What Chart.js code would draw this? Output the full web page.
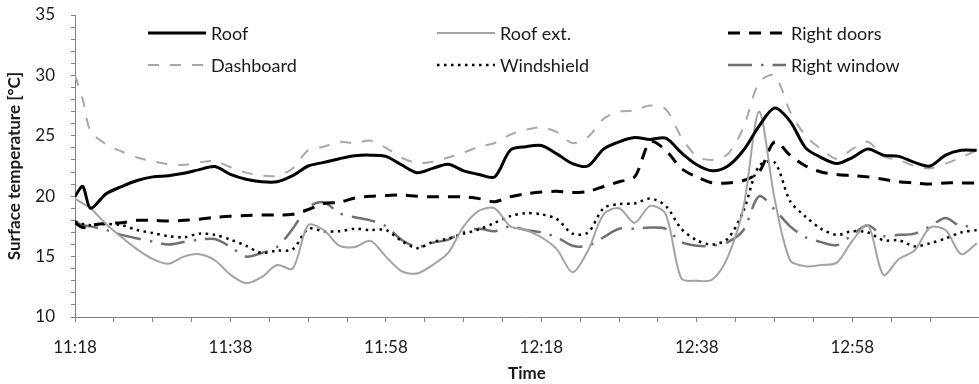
<!DOCTYPE html>
<html>
<head>
<meta charset="utf-8">
<script src="https://cdn.jsdelivr.net/npm/chart.js@4.4.1/dist/chart.umd.min.js"></script>
<style>
  html, body { margin: 0; padding: 0; background: #fff; overflow: hidden; }
  canvas { display: block; }
</style>
</head>
<body>
<canvas id="chartSuhu" width="979" height="384"></canvas>
<script>
// minutes after 11:18
const times = [
  0, 1, 2, 4, 6, 8, 10, 12, 14, 16,
  18, 20, 22, 24, 26, 28, 30, 32, 34, 36,
  38, 40, 42, 44, 46, 48, 50, 52, 54, 56,
  58, 60, 62, 64, 66, 68, 70, 72, 74, 76,
  78, 80, 82, 84, 86, 88, 90, 92, 94, 96,
  98, 100, 102, 104, 106, 108, 110, 112, 114, 116
];

const timeLabels = ["11:18", "11:38", "11:58", "12:18", "12:38", "12:58"];

const roof = [
  20.0, 20.8, 19.0, 20.2, 20.8, 21.3, 21.6, 21.7, 21.9, 22.2,
  22.45, 21.8, 21.4, 21.2, 21.2, 21.7, 22.5, 22.8, 23.1, 23.35,
  23.4, 23.3, 22.6, 21.95, 22.3, 22.65, 22.1, 21.8, 21.6, 23.8,
  24.1, 24.2, 23.5, 22.7, 22.5, 23.9, 24.5, 24.85, 24.7, 24.8,
  23.6, 22.6, 22.1, 22.5, 23.8, 25.8, 27.3, 26.2, 24.0, 23.2,
  22.7, 23.2, 23.9, 23.4, 23.3, 22.8, 22.5, 23.4, 23.8, 23.8
];

const roofExt = [
  19.8, 19.4, 19.0, 17.7, 16.6, 15.6, 14.8, 14.4, 15.0, 15.2,
  14.7, 13.5, 12.8, 13.3, 14.3, 14.0, 17.6, 17.2, 15.9, 15.8,
  16.3, 15.0, 13.8, 13.6, 14.3, 15.3, 17.5, 18.8, 19.0, 17.5,
  17.2, 16.6, 15.6, 13.7, 15.5, 18.5, 19.0, 17.8, 19.2, 18.5,
  13.2, 13.0, 13.1, 15.0, 19.1, 27.0, 19.8, 14.7, 14.2, 14.3,
  14.5, 16.3, 17.6, 13.5, 14.8, 15.5, 17.4, 17.2, 15.2, 16.1
];

const rightDoors = [
  17.8, 17.4, 17.6, 17.75, 17.8, 18.0, 18.0, 17.95, 18.0, 18.1,
  18.25, 18.35, 18.4, 18.45, 18.45, 18.5, 18.9, 19.4, 19.5, 19.85,
  20.0, 20.05, 20.1, 20.0, 19.95, 19.95, 19.95, 19.8, 19.55, 19.95,
  20.2, 20.35, 20.4, 20.3, 20.4, 20.8, 21.2, 21.6, 24.5, 23.8,
  22.3, 21.6, 21.1, 21.1, 21.3, 22.0, 24.5, 23.4, 22.5, 22.0,
  21.8, 21.7, 21.6, 21.4, 21.2, 21.1, 21.0, 21.1, 21.1, 21.1
];

const dashboard = [
  30.0, 28.0, 25.4, 24.3, 23.7, 23.2, 22.9, 22.65, 22.6, 22.8,
  22.9, 22.4, 21.95, 21.7, 21.7, 22.3, 23.8, 24.1, 24.5, 24.4,
  24.6, 24.0, 23.2, 22.75, 22.85, 23.2, 23.6, 24.1, 24.4, 25.1,
  25.5, 25.7, 25.3, 24.4, 24.9, 26.4, 27.0, 27.1, 27.5, 27.2,
  24.9, 23.3, 23.0, 23.5, 25.7, 29.4, 30.0, 27.0, 25.0, 23.9,
  23.1, 23.9, 24.5, 23.3, 23.0, 22.5, 22.3, 22.7, 23.2, 23.8
];

const windshield = [
  17.9, 17.7, 17.6, 17.7, 17.6, 17.2, 16.95, 16.7, 16.6, 16.9,
  16.8, 16.4, 15.9, 15.3, 15.5, 15.6, 17.3, 17.1, 17.1, 17.3,
  17.2, 17.2, 16.3, 15.7, 16.2, 16.5, 16.9, 17.25, 17.8, 18.35,
  18.6, 18.5, 18.1, 16.9, 17.0, 19.0, 19.35, 19.4, 19.8, 19.2,
  17.3, 16.35, 16.0, 16.5, 18.8, 22.5, 22.8, 19.6, 18.3, 17.3,
  16.8, 17.1, 17.0, 16.35, 16.35, 15.85, 16.1, 16.5, 17.0, 17.2
];

const rightWindow = [
  17.9, 17.6, 17.5, 17.2, 16.8, 16.5, 16.25, 16.0, 16.2, 16.4,
  16.45, 15.8, 15.0, 15.3, 15.8, 17.3, 19.1, 19.5, 18.6, 18.25,
  18.0, 17.5, 16.4, 15.8, 16.15, 16.4, 17.05, 17.3, 17.1, 17.5,
  17.2, 17.0, 16.6, 15.9, 15.9, 16.6, 17.3, 17.3, 17.4, 17.3,
  16.2, 15.9, 15.9, 16.2, 17.2, 20.0, 18.9, 17.5, 16.6, 16.2,
  15.95, 16.8, 17.6, 16.7, 16.8, 16.9, 17.5, 18.2, 17.5, 17.7
];

const FONT = "Lato, 'Open Sans', sans-serif";
const toPoints = arr => arr.map((v, i) => ({ x: times[i], y: v }));

// legend 3 kolom x 2 baris, di dalam area plot
const gridLegend = {
  id: "gridLegend",
  afterDraw(chart) {
    const ctx = chart.ctx;
    const area = chart.chartArea;
    const colX = [73, 362, 653];
    const rowY = [18, 50];
    ctx.save();
    ctx.font = "18px " + FONT;
    ctx.textBaseline = "middle";
    ctx.fillStyle = "#1a1a1a";
    chart.data.datasets.forEach((ds, k) => {
      const x = area.left + colX[k % 3];
      const y = area.top + rowY[Math.floor(k / 3)];
      ctx.beginPath();
      ctx.strokeStyle = ds.borderColor;
      ctx.lineWidth = ds.borderWidth;
      ctx.setLineDash(ds.borderDash || []);
      ctx.moveTo(x, y);
      ctx.lineTo(x + 58, y);
      ctx.stroke();
      ctx.setLineDash([]);
      ctx.fillText(ds.label, x + 63, y + 1);
    });
    ctx.restore();
  }
};

const ctx = document.getElementById("chartSuhu").getContext("2d");

new Chart(ctx, {
  type: "line",
  data: {
    datasets: [
      {
        label: "Roof",
        data: toPoints(roof),
        borderColor: "#000000",
        borderWidth: 3
      },
      {
        label: "Roof ext.",
        data: toPoints(roofExt),
        borderColor: "#a3a3a3",
        borderWidth: 2
      },
      {
        label: "Right doors",
        data: toPoints(rightDoors),
        borderColor: "#000000",
        borderWidth: 3,
        borderDash: [12, 9]
      },
      {
        label: "Dashboard",
        data: toPoints(dashboard),
        borderColor: "#a8a8a8",
        borderWidth: 2,
        borderDash: [11, 11]
      },
      {
        label: "Windshield",
        data: toPoints(windshield),
        borderColor: "#000000",
        borderWidth: 2.5,
        borderDash: [2.5, 4.5]
      },
      {
        label: "Right window",
        data: toPoints(rightWindow),
        borderColor: "#707070",
        borderWidth: 2.5,
        borderDash: [24, 9, 2.5, 9]
      }
    ]
  },
  options: {
    responsive: false,
    animation: false,
    devicePixelRatio: 1,
    layout: { padding: { top: 15, right: 0, left: 0, bottom: 0 } },
    elements: {
      point: { radius: 0, hoverRadius: 0 },
      line: { tension: 0.3, fill: false }
    },
    plugins: {
      legend: { display: false },
      tooltip: { enabled: false }
    },
    scales: {
      x: {
        type: "linear",
        min: 0,
        max: 116.3,
        afterFit: s => {
          s.height = 67;
          s.paddingLeft = 0;
          s.paddingRight = 0;
        },
        border: { color: "#808080", width: 1 },
        grid: { drawOnChartArea: false, drawTicks: true, tickLength: 5, color: "#808080" },
        ticks: {
          stepSize: 5,
          autoSkip: false,
          maxRotation: 0,
          padding: 15,
          color: "#1a1a1a",
          font: { family: FONT, size: 17 },
          callback: v => (v % 20 === 0 ? timeLabels[v / 20] : "")
        },
        title: {
          display: true,
          text: "Time",
          color: "#1a1a1a",
          font: { family: FONT, size: 17, weight: "bold" },
          padding: { top: 0, bottom: 0 }
        }
      },
      y: {
        min: 10,
        max: 35,
        afterFit: s => {
          s.width = 75;
          s.paddingTop = 0;
          s.paddingBottom = 0;
        },
        border: { color: "#808080", width: 1 },
        grid: { drawOnChartArea: false, drawTicks: true, tickLength: 4, color: "#808080" },
        ticks: {
          stepSize: 1,
          autoSkip: false,
          padding: 16,
          color: "#1a1a1a",
          font: { family: FONT, size: 17 },
          callback: v => (v % 5 === 0 ? v : "")
        },
        title: {
          display: true,
          text: "Surface temperature [°C]",
          color: "#1a1a1a",
          font: { family: FONT, size: 17, weight: "bold" },
          padding: { top: 4, bottom: 0 }
        }
      }
    }
  },
  plugins: [gridLegend]
});
</script>
</body>
</html>
